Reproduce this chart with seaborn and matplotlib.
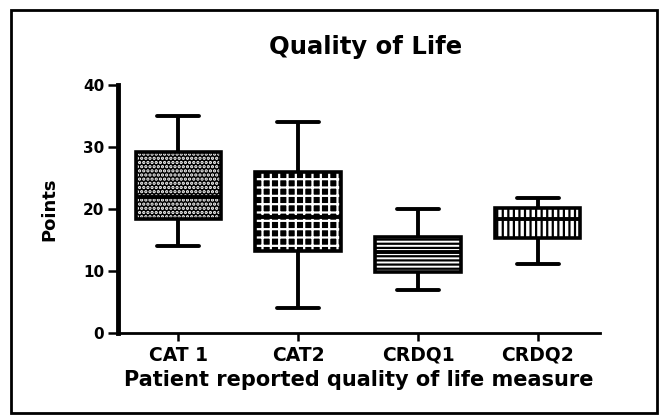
import numpy as np
import pandas as pd
import matplotlib
matplotlib.use("Agg")
import matplotlib.pyplot as plt
import seaborn as sns
from matplotlib.patches import Rectangle, PathPatch

# categories and five-number summaries
measures = ["CAT 1", "CAT2", "CRDQ1", "CRDQ2"]
low = [14, 4, 7, 11.2]
q1 = [18.4, 13.3, 9.8, 15.4]
median = [22, 18.7, 13, 18.4]
q3 = [29.2, 26, 15.5, 20.2]
high = [35, 34, 20, 21.8]
hatches = ["....", "++", "----", "|||"]
box_face = ["black", "black", "white", "white"]
hatch_col = ["white", "white", "black", "black"]

# with 5 values per group the quartiles come out exactly as read
rows = []
for i, m in enumerate(measures):
    for v in [low[i], q1[i], median[i], q3[i], high[i]]:
        rows.append({"measure": m, "points": v})
df = pd.DataFrame(rows)

sns.set_theme(style="ticks", rc={"text.color": "black", "axes.labelcolor": "black",
                                 "axes.edgecolor": "black", "xtick.color": "black",
                                 "ytick.color": "black"})
plt.rcParams["font.family"] = ["DejaVu Sans"]
plt.rcParams["font.weight"] = "bold"
plt.rcParams["hatch.linewidth"] = 1.6

fig = plt.figure(figsize=(6.64, 4.16), dpi=100)
ax = fig.add_axes([0.178, 0.1995, 0.726, 0.596])

sns.boxplot(data=df, x="measure", y="points", whis=np.inf, width=0.71,
            color="white", linecolor="black", linewidth=2.8, ax=ax)

# hatch in its own colour, then put a black outline back on top
for i, patch in enumerate(list(ax.patches)):
    patch.set_facecolor(box_face[i])
    patch.set_edgecolor(hatch_col[i])
    patch.set_hatch(hatches[i])
    patch.set_linewidth(0)
    outline = PathPatch(patch.get_path(), transform=patch.get_transform(),
                        fill=False, edgecolor="black", lw=2.6, zorder=patch.get_zorder() + 0.1)
    ax.add_patch(outline)

ax.set_ylim(0, 40)
ax.set_xlim(-0.5, 3.52)
ax.set_yticks([0, 10, 20, 30, 40])
sns.despine(ax=ax)
ax.spines["left"].set_linewidth(3.5)
ax.spines["bottom"].set_linewidth(2)
ax.tick_params(axis="both", width=1.8, direction="out")
ax.tick_params(axis="y", labelsize=11, pad=3, length=7)
ax.tick_params(axis="x", labelsize=13.5, pad=3, length=6)
for lab in ax.get_xticklabels() + ax.get_yticklabels():
    lab.set_fontweight("bold")

ax.set_xlabel("Patient reported quality of life measure", fontsize=15, fontweight="bold", labelpad=4)
ax.set_ylabel("Points", fontsize=13, fontweight="bold", labelpad=18)
fig.text(0.55, 0.887, "Quality of Life", ha="center", va="center", fontsize=17.5, fontweight="bold")

fig.patches.append(Rectangle((0.017, 0.007), 0.973, 0.968, transform=fig.transFigure,
                             fill=False, lw=2, edgecolor="black"))

fig.savefig("out.png", dpi=100)
